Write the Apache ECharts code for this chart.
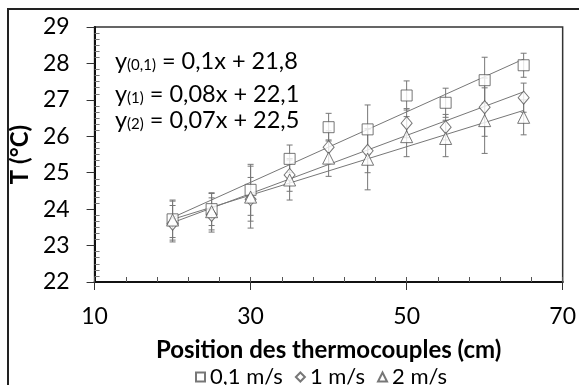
<!DOCTYPE html>
<html><head><meta charset="utf-8">
<script src="https://cdn.jsdelivr.net/npm/echarts@6/dist/echarts.min.js"></script>
<style>html,body{margin:0;padding:0;background:#fff}#c{width:579px;height:385px}</style>
</head><body><div id="c"></div>
<script>
// ---- data ----
const positions = [20, 25, 30, 35, 40, 45, 50, 55, 60, 65];
const tLow  = [23.72, 24.00, 24.53, 25.38, 26.25, 26.19, 27.12, 26.92, 27.54, 27.95]; // 0,1 m/s
const tMid  = [23.60, 23.84, 24.27, 24.94, 25.70, 25.60, 26.36, 26.25, 26.80, 27.06]; // 1 m/s
const tHigh = [23.70, 23.93, 24.33, 24.80, 25.40, 25.37, 25.99, 25.94, 26.43, 26.52]; // 2 m/s
const errLow  = [0.50, 0.45, 0.70, 0.38, 0.38, 0.67, 0.40, 0.40, 0.63, 0.33];
const errMid  = [0.50, 0.47, 0.60, 0.45, 0.45, 0.60, 0.40, 0.35, 0.80, 0.40];
const errHigh = [0.55, 0.50, 0.85, 0.55, 0.50, 0.84, 0.55, 0.50, 0.90, 0.48];
const trendX = [20, 65];
const trendLow  = [23.77, 28.12];
const trendMid  = [23.63, 27.22];
const trendHigh = [23.72, 26.71];
const seriesNames = ['0,1 m/s', '1 m/s', '2 m/s'];
const eqSubs = ['(0,1)', '(1)', '(2)'];
const eqSlopes = ['0,1', '0,08', '0,07'];
const eqIntercepts = ['21,8', '22,1', '22,5'];
const xTitle = 'Position des thermocouples (cm)';
const yTitle = 'T (°C)';

// ---- chart ----
const FONT = 'Lato';
const chart = echarts.init(document.getElementById('c'), null, {renderer: 'canvas'});

const markerStyle = {color: '#fff', borderColor: '#555', borderWidth: 1};
const symbols = ['rect', 'diamond', 'triangle'];
const symbolSizes = [11, [11, 13], [12, 12]];
const values = [tLow, tMid, tHigh];
const errs = [errLow, errMid, errHigh];
const trends = [trendLow, trendMid, trendHigh];

const series = [];
// error bars
values.forEach((vals, k) => {
  series.push({
    type: 'custom', xAxisIndex: 0, yAxisIndex: 0, silent: true, z: 2,
    data: positions.map((x, i) => [x, vals[i] - errs[k][i], vals[i] + errs[k][i]]),
    renderItem: function (params, api) {
      const lo = api.coord([api.value(0), api.value(1)]);
      const hi = api.coord([api.value(0), api.value(2)]);
      const w = 3;
      const st = {stroke: '#777', lineWidth: 1};
      return {type: 'group', children: [
        {type: 'line', shape: {x1: lo[0], y1: lo[1], x2: hi[0], y2: hi[1]}, style: st},
        {type: 'line', shape: {x1: lo[0] - w, y1: lo[1], x2: lo[0] + w, y2: lo[1]}, style: st},
        {type: 'line', shape: {x1: hi[0] - w, y1: hi[1], x2: hi[0] + w, y2: hi[1]}, style: st}
      ]};
    }
  });
});
// trend lines
trends.forEach((tr) => {
  series.push({
    type: 'line', xAxisIndex: 0, yAxisIndex: 0, silent: true, z: 3, symbol: 'none',
    data: trendX.map((x, i) => [x, tr[i]]),
    lineStyle: {color: '#777', width: 1}
  });
});
// markers
values.forEach((vals, k) => {
  series.push({
    name: seriesNames[k], type: 'scatter', xAxisIndex: 0, yAxisIndex: 0, z: 4,
    symbol: symbols[k], symbolSize: symbolSizes[k],
    itemStyle: markerStyle,
    data: positions.map((x, i) => [x, vals[i]])
  });
});

const eqTops = [49, 82, 108];
const graphics = [
  {type: 'rect', shape: {x: 8, y: 9, width: 620, height: 420}, style: {fill: 'none', stroke: '#222', lineWidth: 2}, z: 10}
];
eqSubs.forEach((s, k) => {
  graphics.push({
    type: 'text', left: 115, top: eqTops[k], z: 10,
    style: {
      text: '{m|y}{s|' + s + '}{m| = ' + eqSlopes[k] + 'x + ' + eqIntercepts[k] + '}',
      rich: {
        m: {fontFamily: FONT, fontSize: 23.5, lineHeight: 26, fill: '#000', verticalAlign: 'bottom'},
        s: {fontFamily: FONT, fontSize: 15, lineHeight: 8, fill: '#000', verticalAlign: 'bottom'}
      }
    }
  });
});

chart.setOption({
  animation: false,
  backgroundColor: '#fff',
  grid: {left: 91, top: 27, right: 10, bottom: 103, show: true, borderColor: '#333', borderWidth: 1.5, backgroundColor: 'transparent'},
  legend: {
    data: seriesNames, left: 190, top: 361, itemWidth: 9, itemHeight: 9, itemGap: 12,
    textStyle: {fontFamily: FONT, fontSize: 22, color: '#000'},
    selectedMode: false
  },
  xAxis: [
    {type: 'value', min: 10, max: 70, interval: 20, position: 'bottom',
     axisLine: {show: true, onZero: false, lineStyle: {color: '#111', width: 2}},
     axisTick: {show: true, inside: false, length: 8, lineStyle: {color: '#333', width: 1}},
     axisLabel: {fontFamily: FONT, fontSize: 23, color: '#000', margin: 23},
     splitLine: {show: false},
     name: xTitle, nameLocation: 'middle', nameGap: 56,
     nameTextStyle: {fontFamily: FONT, fontSize: 24, fontWeight: 'bold', color: '#000'}},
    {type: 'value', min: 10, max: 70, interval: 4, position: 'bottom',
     axisLine: {show: false}, axisLabel: {show: false}, splitLine: {show: false},
     axisTick: {show: true, inside: true, length: 5, lineStyle: {color: '#555', width: 1}}}
  ],
  yAxis: [
    {type: 'value', min: 22, max: 29, interval: 1, position: 'left',
     axisLine: {show: true, onZero: false, lineStyle: {color: '#111', width: 2}},
     axisTick: {show: true, inside: false, length: 8, lineStyle: {color: '#333', width: 1}},
     axisLabel: {fontFamily: FONT, fontSize: 23, color: '#000', margin: 25},
     splitLine: {show: false},
     name: yTitle, nameLocation: 'middle', nameGap: 52, nameRotate: 90,
     nameTextStyle: {fontFamily: FONT, fontSize: 24, fontWeight: 'bold', color: '#000'}},
    {type: 'value', min: 22, max: 29, interval: 1, position: 'left',
     axisLine: {show: false}, axisLabel: {show: false}, splitLine: {show: false},
     axisTick: {show: false, inside: true},
     minorTick: {show: true, splitNumber: 6, length: 5, lineStyle: {color: '#777', width: 1}},
     minorSplitLine: {show: false}}
  ],
  series: series,
  graphic: graphics
});
</script></body></html>
